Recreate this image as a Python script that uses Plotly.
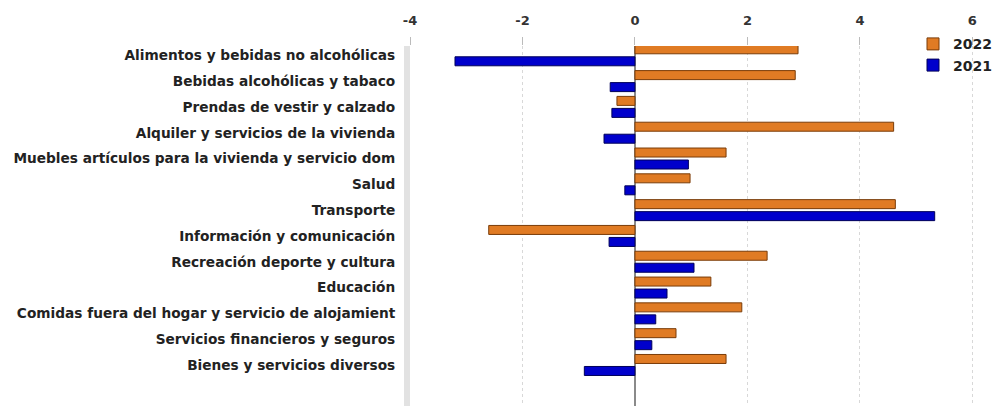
import plotly.graph_objects as go

categories = [
    "Alimentos y bebidas no alcohólicas",
    "Bebidas alcohólicas y tabaco",
    "Prendas de vestir y calzado",
    "Alquiler y servicios de la vivienda",
    "Muebles artículos para la vivienda y servicio dom",
    "Salud",
    "Transporte",
    "Información y comunicación",
    "Recreación deporte y cultura",
    "Educación",
    "Comidas fuera del hogar y servicio de alojamient",
    "Servicios financieros y seguros",
    "Bienes y servicios diversos",
]
values_2022 = [2.9, 2.85, -0.32, 4.6, 1.62, 0.98, 4.63, -2.6, 2.35, 1.35, 1.9, 0.73, 1.62]
values_2021 = [-3.2, -0.44, -0.41, -0.55, 0.95, -0.18, 5.33, -0.46, 1.05, 0.57, 0.37, 0.3, -0.9]
tick_vals = [-4, -2, 0, 2, 4, 6]

font_family = "DejaVu Sans, Verdana, sans-serif"

fig = go.Figure()
fig.add_trace(go.Bar(
    y=categories, x=values_2022, orientation="h", name="<b>2022</b>",
    marker=dict(color="#E07B24", line=dict(color="#7a3c08", width=1)),
))
fig.add_trace(go.Bar(
    y=categories, x=values_2021, orientation="h", name="<b>2021</b>",
    marker=dict(color="#0000CC", line=dict(color="#00005a", width=1)),
))

fig.update_layout(
    width=1000, height=406,
    margin=dict(l=402, r=30, t=38, b=0, autoexpand=False),
    paper_bgcolor="white", plot_bgcolor="white",
    barmode="group", bargap=0.07, bargroupgap=0.25,
    font=dict(family=font_family, size=13, color="#222"),
    showlegend=True,
    legend=dict(xref="container", yref="container", x=0.905, y=0.95,
                xanchor="left", yanchor="top",
                bgcolor="rgba(0,0,0,0)", font=dict(size=14, color="#222"),
                itemwidth=30, tracegroupgap=0),
    xaxis=dict(
        side="top", range=[-4, 6.1], tickvals=tick_vals,
        ticktext=[f"<b>{v}</b>" for v in tick_vals],
        showgrid=True, gridcolor="#d8d8d8", griddash="dot", gridwidth=1,
        zeroline=True, zerolinecolor="#8a8a8a", zerolinewidth=1.5,
        ticks="outside", ticklen=8, tickcolor="#bbb", ticklabelstandoff=7,
        tickfont=dict(size=13, color="#333"),
        showline=False,
    ),
    yaxis=dict(
        range=[13.9, -0.36], tickvals=categories,
        ticktext=[f"<b>{c}</b>" for c in categories],
        ticks="", ticklabelstandoff=6,
        showline=True, linecolor="#e2e2e2", linewidth=6,
        showgrid=False, tickfont=dict(size=13.7, color="#222"),
    ),
)

fig.write_html("out.html")
